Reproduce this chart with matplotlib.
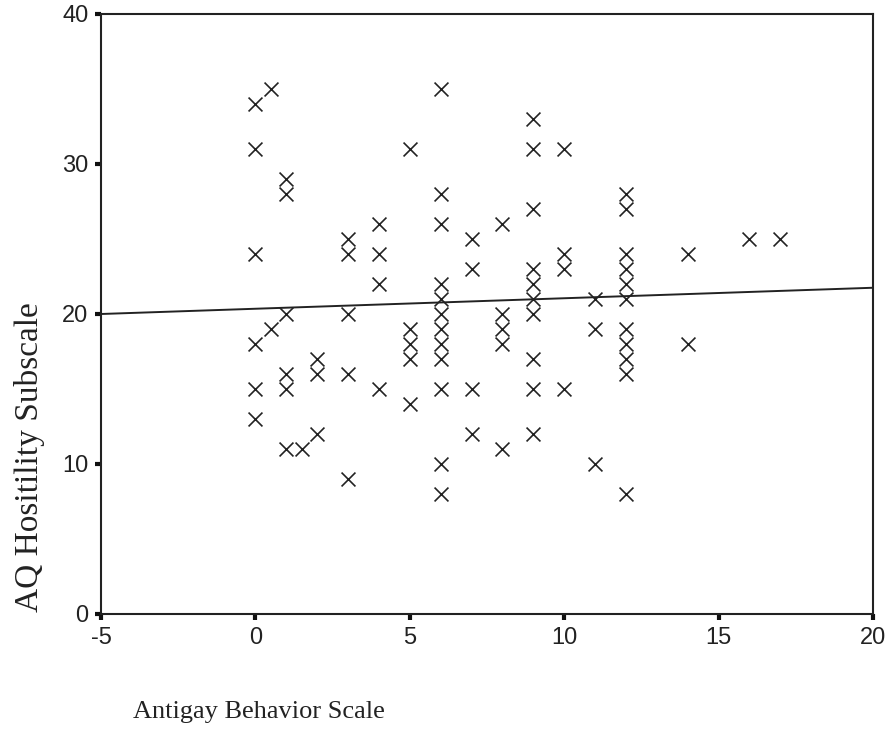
import matplotlib
matplotlib.use("Agg")
import matplotlib.pyplot as plt
import numpy as np

plt.rcParams['axes.unicode_minus'] = False

# Data (Antigay Behavior Scale, AQ Hostility Subscale)
x_vals = ([0]*6 + [0.5]*2 + [1]*6 + [1.5] + [2]*3 + [3]*5 + [4]*4 + [5]*5 +
          [6]*12 + [7]*4 + [8]*5 + [9]*10 + [10]*4 + [11]*3 + [12]*11 +
          [14]*2 + [16] + [17])
y_vals = ([34, 31, 24, 18, 15, 13] +
          [35, 19] +
          [29, 28, 20, 16, 15, 11] +
          [11] +
          [17, 16, 12] +
          [25, 24, 20, 16, 9] +
          [26, 24, 22, 15] +
          [31, 19, 18, 17, 14] +
          [35, 28, 26, 22, 21, 20, 19, 18, 17, 15, 10, 8] +
          [25, 23, 15, 12] +
          [26, 20, 19, 18, 11] +
          [33, 31, 27, 23, 22, 21, 20, 17, 15, 12] +
          [31, 24, 23, 15] +
          [21, 19, 10] +
          [28, 27, 24, 23, 22, 21, 19, 18, 17, 16, 8] +
          [24, 18] +
          [25] +
          [25])

# Fit line endpoints
line_x = [-5, 20]
line_y = [20.0, 21.75]

x_ticks = [-5, 0, 5, 10, 15, 20]
y_ticks = [0, 10, 20, 30, 40]

fig = plt.figure(figsize=(8.91, 7.35), dpi=100)
ax = fig.add_axes([101/891, 1-614/735, (873-101)/891, (614-14)/735])

ax.scatter(x_vals, y_vals, marker='x', s=100, c='#222222', linewidths=1.2, zorder=3)
ax.plot(line_x, line_y, color='#222222', linewidth=1.4, zorder=2)

ax.set_xlim(-5, 20)
ax.set_ylim(0, 40)
ax.set_xticks(x_ticks)
ax.set_yticks(y_ticks)
ax.tick_params(direction='out', length=4, width=3, color='#111111',
               labelsize=17, pad=5)
for lbl in ax.get_xticklabels() + ax.get_yticklabels():
    lbl.set_family('Liberation Sans')
    lbl.set_color('#222222')
for sp in ax.spines.values():
    sp.set_linewidth(1.5)
    sp.set_color('#222222')

fig.text(133/891, 1-712/735, 'Antigay Behavior Scale', family='Liberation Serif',
         fontsize=19, ha='left', va='center', color='#222222')
fig.text(30/891, 1-457/735, 'AQ Hositility Subscale', family='Liberation Serif',
         fontsize=24, ha='center', va='center', rotation=90, color='#222222')

fig.savefig('out.png', dpi=100)
